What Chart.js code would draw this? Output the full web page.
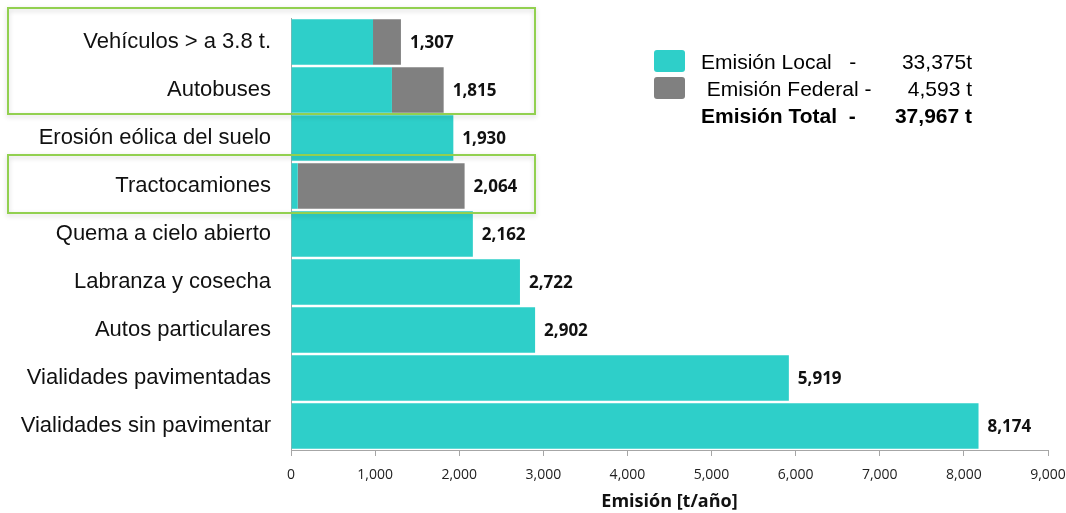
<!DOCTYPE html>
<html>
<head>
<meta charset="utf-8">
<script src="https://cdn.jsdelivr.net/npm/chart.js@4/dist/chart.umd.min.js"></script>
<style>
  html, body { margin: 0; padding: 0; background: #fff; }
  #wrap { width: 1066px; height: 513px; position: relative; }
</style>
</head>
<body>
<div id="wrap"><canvas id="emisionChart"></canvas></div>
<script>
// categories, top to bottom
const categories = [
    'Vehículos > a 3.8 t.',
    'Autobuses',
    'Erosión eólica del suelo',
    'Tractocamiones',
    'Quema a cielo abierto',
    'Labranza y cosecha',
    'Autos particulares',
    'Vialidades pavimentadas',
    'Vialidades sin pavimentar'
];
// emisión local / federal (t/año)
const localValues = [975, 1200, 1930, 80, 2162, 2722, 2902, 5919, 8174];
const federalValues = [332, 615, 0, 1984, 0, 0, 0, 0, 0];
const xTicks = [0, 1000, 2000, 3000, 4000, 5000, 6000, 7000, 8000, 9000];

// legend text
const legendRows = [
    { label: 'Emisión Local   -', value: '33,375t', color: '#2ecfc9', bold: false },
    { label: ' Emisión Federal -', value: '4,593 t', color: '#808080', bold: false },
    { label: 'Emisión Total  -', value: '37,967 t', color: null, bold: true }
];
// rows framed with a green box (index ranges)
const highlightGroups = [[0, 1], [3, 3]];

const tealColor = '#2ecfc9';
const grayColor = '#808080';

// value labels at the end of each bar
const totalsPlugin = {
    id: 'totals',
    afterDatasetsDraw(chart) {
        const ctx = chart.ctx;
        const xs = chart.scales.x, ys = chart.scales.y;
        ctx.save();
        ctx.font = 'bold 17px "Open Sans"';
        ctx.fillStyle = '#111';
        ctx.textBaseline = 'middle';
        ctx.textAlign = 'left';
        for (let i = 0; i < categories.length; i++) {
            let total = localValues[i] + federalValues[i];
            let x = xs.getPixelForValue(total) + 9;
            let y = ys.getPixelForValue(i) + 1;
            ctx.fillText(total.toLocaleString('en-US'), x, y);
        }
        ctx.restore();
    }
};

// green frames + legend drawn on top
const decorPlugin = {
    id: 'decor',
    afterDraw(chart) {
        const ctx = chart.ctx;
        const ys = chart.scales.y;
        const band = ys.getPixelForValue(1) - ys.getPixelForValue(0);
        ctx.save();
        highlightGroups.forEach(function(g, k) {
            let top = ys.getPixelForValue(g[0]) - band / 2 - (k === 0 ? 10 : 7);
            let bottom = ys.getPixelForValue(g[1]) + band / 2 + (k === 0 ? 0 : 3);
            ctx.shadowColor = 'rgba(0,0,0,0.18)';
            ctx.shadowBlur = 5;
            ctx.shadowOffsetY = 2;
            ctx.strokeStyle = '#92d050';
            ctx.lineWidth = 2;
            ctx.strokeRect(8, top, 527, bottom - top);
        });
        ctx.restore();

        // legend
        ctx.save();
        ctx.textBaseline = 'alphabetic';
        legendRows.forEach(function(r, i) {
            let base = 69 + i * 27;
            if (r.color) {
                ctx.fillStyle = r.color;
                ctx.beginPath();
                ctx.roundRect(654, base - 19, 31, 22, 3);
                ctx.fill();
            }
            ctx.fillStyle = '#000';
            ctx.font = (r.bold ? 'bold ' : '') + '21px "Liberation Sans", Arial';
            ctx.textAlign = 'left';
            ctx.fillText(r.label, 701, base);
            ctx.textAlign = 'right';
            ctx.fillText(r.value, 972, base);
        });
        ctx.restore();
    }
};

const ctx = document.getElementById('emisionChart').getContext('2d');
const emisionChart = new Chart(ctx, {
    type: 'bar',
    data: {
        labels: categories,
        datasets: [
            {
                label: 'Emisión Local',
                data: localValues,
                backgroundColor: tealColor,
                borderWidth: 0,
                barPercentage: 0.95,
                categoryPercentage: 1.0
            },
            {
                label: 'Emisión Federal',
                data: federalValues,
                backgroundColor: grayColor,
                borderWidth: 0,
                barPercentage: 0.95,
                categoryPercentage: 1.0
            }
        ]
    },
    options: {
        indexAxis: 'y',
        responsive: true,
        maintainAspectRatio: false,
        animation: false,
        layout: { padding: { top: 18, right: 18, left: 0, bottom: 0 } },
        scales: {
            x: {
                stacked: true,
                min: 0,
                max: 9000,
                afterBuildTicks: function(scale) {
                    scale.ticks = xTicks.map(v => ({ value: v }));
                },
                afterFit: function(scale) {
                    scale.height = 63;
                    scale.paddingLeft = 0;
                    scale.paddingRight = 0;
                },
                grid: {
                    drawOnChartArea: false,
                    drawTicks: true,
                    tickLength: 6,
                    color: '#a6a6a6'
                },
                border: { display: true, color: '#a6a6a6' },
                ticks: {
                    padding: 11,
                    color: '#222',
                    font: { family: '"Open Sans"', size: 14 },
                    callback: function(value) { return value.toLocaleString('en-US'); },
                    maxRotation: 0
                },
                title: {
                    display: true,
                    text: 'Emisión [t/año]',
                    color: '#111',
                    font: { family: '"Open Sans"', size: 18, weight: 'bold' },
                    padding: { top: 1, bottom: 0 }
                }
            },
            y: {
                stacked: true,
                afterFit: function(scale) {
                    scale.width = 291;
                    scale.paddingTop = 0;
                    scale.paddingBottom = 0;
                },
                grid: { display: false, drawTicks: false },
                border: { display: true, color: '#a6a6a6' },
                ticks: {
                    padding: 20,
                    color: '#111',
                    font: { family: '"Liberation Sans", Arial', size: 22 }
                }
            }
        },
        plugins: {
            legend: { display: false },
            tooltip: { enabled: false }
        }
    },
    plugins: [totalsPlugin, decorPlugin]
});
</script>
</body>
</html>
